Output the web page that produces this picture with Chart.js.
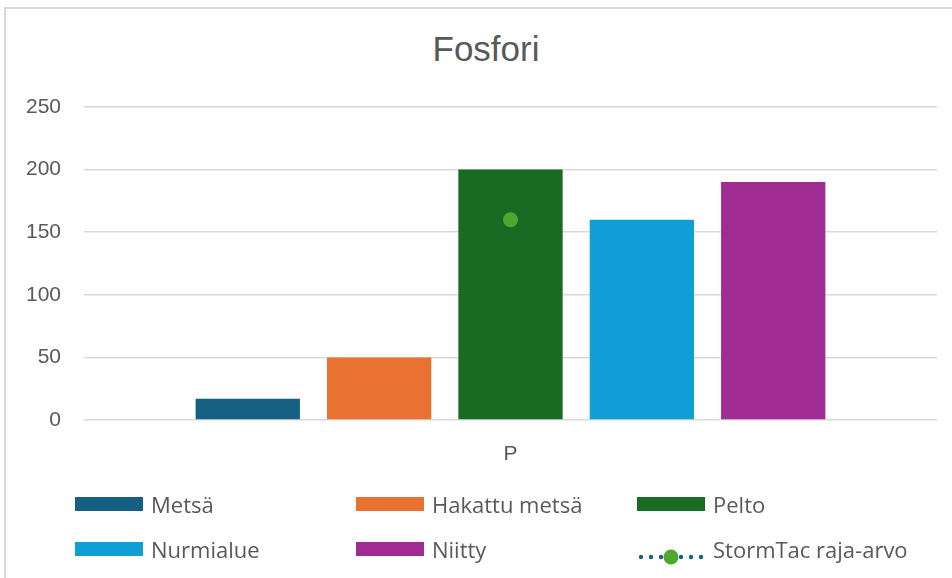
<!DOCTYPE html>
<html>
<head>
<meta charset="utf-8">
<script src="https://cdn.jsdelivr.net/npm/chart.js@4.4.1/dist/chart.umd.min.js"></script>
<style>
  html, body { margin: 0; padding: 0; background: #fff; }
  body { width: 952px; height: 578px; position: relative; overflow: hidden; font-family: "Liberation Sans", Arial, sans-serif; }
  #frame { position: absolute; left: 4px; top: 7px; width: 1000px; height: 620px; border: 2px solid #d9d9d9; box-sizing: border-box; }
  #title { position: absolute; left: 0; width: 972px; top: 29px; text-align: center; font-size: 35px; color: #595959; }
  #wrap { position: absolute; left: 0; top: 0; width: 952px; height: 470px; }
  #legend { position: absolute; left: 0; top: 0; width: 952px; height: 578px; pointer-events: none; }
  .item { position: absolute; display: flex; align-items: center; font-size: 22px; color: #595959; font-family: "Open Sans", sans-serif; }
  .sw { width: 68px; height: 14px; margin-right: 8px; }
  .sym { width: 68px; height: 16px; margin-right: 8px; position: relative; }
</style>
</head>
<body>
<div id="frame"></div>
<div id="title">Fosfori</div>
<div id="wrap"><canvas id="chart"></canvas></div>
<div id="legend"></div>
<script>
const categories = ['P'];
const seriesNames = ['Metsä', 'Hakattu metsä', 'Pelto', 'Nurmialue', 'Niitty'];
const seriesValues = [17, 50, 200, 160, 190];
const seriesColors = ['#156082', '#E97132', '#196B24', '#0F9ED5', '#A02B93'];
const limitName = 'StormTac raja-arvo';
const limitValues = [160];
const yTicks = [0, 50, 100, 150, 200, 250];

const textColor = '#595959';
const gridColor = '#d9d9d9';

const datasets = seriesNames.map((name, i) => ({
  type: 'bar',
  label: name,
  data: [seriesValues[i]],
  backgroundColor: seriesColors[i],
  borderWidth: 0,
  categoryPercentage: 0.77,
  barPercentage: 0.794,
  order: 1
}));
datasets.push({
  type: 'line',
  label: limitName,
  data: limitValues,
  showLine: false,
  borderColor: '#156082',
  borderDash: [2, 4],
  pointRadius: 7.5,
  pointHoverRadius: 7.5,
  pointBackgroundColor: '#4EA72E',
  pointBorderWidth: 0,
  order: 0
});

const ctx = document.getElementById('chart').getContext('2d');
new Chart(ctx, {
  data: { labels: categories, datasets: datasets },
  options: {
    responsive: true,
    maintainAspectRatio: false,
    animation: false,
    layout: { padding: { top: 107, right: 15, left: 0, bottom: 0 } },
    plugins: { legend: { display: false }, tooltip: { enabled: false } },
    scales: {
      x: {
        grid: { display: false },
        border: { display: false },
        ticks: { color: textColor, font: { size: 21, family: 'Liberation Sans' }, padding: 14 },
        afterFit: s => { s.height = 50; }
      },
      y: {
        min: 0, max: 250,
        afterBuildTicks: s => { s.ticks = yTicks.map(v => ({ value: v })); },
        grid: { color: gridColor, lineWidth: 1.5, drawTicks: false },
        border: { display: false },
        ticks: { color: textColor, font: { size: 21, family: 'Liberation Sans' }, padding: 23 },
        afterFit: s => { s.width = 84; }
      }
    }
  }
});

// legend, three columns
const legend = document.getElementById('legend');
const colX = [75, 356, 637];
const rowY = [504, 549];
const entries = seriesNames.map((n, i) => ({ name: n, color: seriesColors[i] }));
entries.push({ name: limitName, limit: true });
entries.forEach((e, i) => {
  const el = document.createElement('div');
  el.className = 'item';
  el.style.left = colX[i % 3] + 'px';
  el.style.top = (rowY[Math.floor(i / 3)] - 15) + 'px';
  el.style.height = '30px';
  if (e.limit) {
    el.innerHTML = '<div class="sym"><svg width="68" height="16">' +
      [4, 14, 24, 44, 54, 64].map(x => `<circle cx="${x}" cy="8" r="2.2" fill="#156082"/>`).join('') +
      '<circle cx="34" cy="8" r="7.5" fill="#4EA72E"/></svg></div>';
  } else {
    el.innerHTML = `<div class="sw" style="background:${e.color}"></div>`;
  }
  const t = document.createElement('span');
  t.innerText = e.name;
  el.appendChild(t);
  legend.appendChild(el);
});
</script>
</body>
</html>
